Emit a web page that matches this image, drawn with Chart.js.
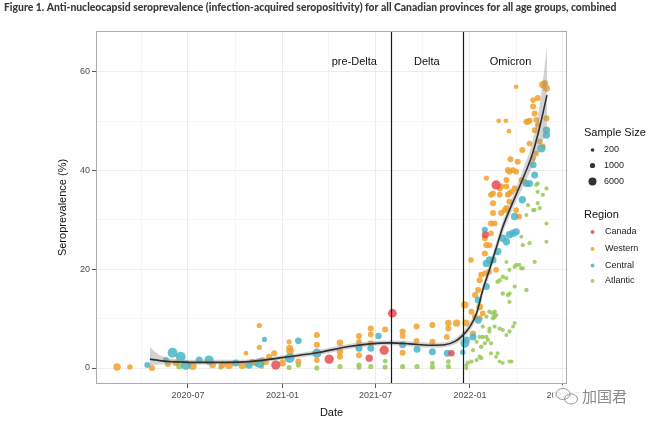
<!DOCTYPE html>
<html>
<head>
<meta charset="utf-8">
<script src="https://cdn.jsdelivr.net/npm/chart.js@4"></script>
<style>
  html, body { margin: 0; padding: 0; background: #fff; }
  canvas { display: block; }
</style>
</head>
<body>
<canvas id="chart" width="650" height="423"></canvas>
<script>
// ---- data: [date, seroprevalence %, sample size] ----
const western = [
  ['2020-02-14',0.2,3000],['2020-03-10',0.2,1000],['2020-04-22',0.0,1500],['2020-05-23',0.8,1500],
  ['2020-06-08',1.0,2000],['2020-07-10',0.4,4000],['2020-08-18',0.6,2000],['2020-09-06',0.6,2000],
  ['2020-09-19',0.6,4000],['2020-10-15',0.6,4000],['2020-10-22',3.0,500],['2020-11-03',1.2,2000],
  ['2020-11-10',1.0,2000],['2020-11-17',8.6,800],['2020-11-17',4.2,800],['2020-11-23',1.6,1500],
  ['2020-11-29',1.2,2000],['2020-12-06',2.3,1500],['2020-12-16',3.0,1500],['2021-01-01',1.0,2500],
  ['2021-01-14',5.3,800],['2021-01-15',4.0,2500],['2021-01-16',3.4,3000],['2021-02-01',1.3,1500],
  ['2021-03-09',6.7,1500],['2021-03-09',4.7,1500],['2021-03-09',1.6,1200],
  ['2021-04-23',5.1,2000],['2021-04-23',3.3,2000],['2021-04-23',2.3,1500],
  ['2021-05-30',6.5,1500],['2021-05-30',5.3,1200],['2021-05-30',2.6,1500],
  ['2021-06-22',8.0,1500],['2021-06-22',6.8,1200],['2021-06-22',5.0,1500],
  ['2021-07-20',7.8,1500],
  ['2021-08-23',7.4,1500],['2021-08-23',6.5,1200],['2021-08-23',3.1,1500],
  ['2021-09-19',8.4,1500],['2021-09-19',5.5,1200],
  ['2021-10-20',8.7,1500],['2021-10-20',5.3,1500],
  ['2021-11-20',9.1,2000],['2021-11-20',8.0,1500],['2021-11-17',6.3,1200],
  ['2021-12-06',9.1,3000],['2021-12-22',12.8,3000],['2021-12-24',9.1,2500],
  ['2022-01-04',11.4,1500],['2022-01-07',7.0,1500],['2022-01-03',21.9,1000],['2022-01-11',14.8,1500],
  ['2022-01-11',10.4,1500],['2022-01-20',12.4,2500],['2022-01-20',10.1,1500],['2022-01-20',17.8,1500],
  ['2022-01-23',18.9,1500],['2022-01-17',15.8,1500],['2022-01-26',11.1,1200],['2022-01-30',23.2,1500],
  ['2022-01-30',26.3,1500],['2022-01-30',19.2,1200],['2022-02-02',24.9,1500],['2022-02-07',19.5,1500],
  ['2022-02-08',24.9,1200],['2022-02-11',29.3,1500],['2022-02-11',27.3,1200],['2022-02-15',31.4,1500],
  ['2022-02-15',33.4,1500],['2022-02-11',35.1,1200],['2022-02-21',19.9,1200],['2022-02-18',29.3,1200],
  ['2022-02-28',36.4,1500],['2022-02-28',35.1,1500],['2022-03-03',36.8,1500],['2022-03-03',31.4,1500],
  ['2022-03-10',32.0,1500],['2022-03-13',32.4,1500],['2022-03-13',36.8,1200],['2022-03-13',38.1,1500],
  ['2022-03-16',35.1,1500],['2022-03-16',40.1,1500],['2022-03-19',33.7,1500],['2022-03-19',35.4,1200],
  ['2022-03-23',35.7,1200],['2022-03-21',42.3,1500],['2022-03-26',40.1,1200],['2022-03-29',36.4,1500],
  ['2022-04-01',32.0,1200],['2022-04-01',57.0,500],['2022-04-04',41.8,1500],['2022-04-07',30.7,1200],
  ['2022-04-11',38.1,1200],['2022-04-13',44.2,1500],['2022-04-17',37.8,1200],['2022-02-26',50.1,500],
  ['2022-03-12',50.1,500],['2022-03-18',48.0,500],['2022-02-02',38.5,800],['2022-04-21',49.9,1500],
  ['2022-04-24',49.9,1500],['2022-04-27',50.1,1500],['2022-04-27',45.5,1200],['2022-05-04',53.0,1500],
  ['2022-05-04',42.5,1200],['2022-05-07',51.6,1500],['2022-05-10',43.5,1200],['2022-05-13',54.7,1500],
  ['2022-05-13',49.3,1200],['2022-05-17',45.9,1200],['2022-05-23',44.9,1200],['2022-05-23',57.4,3000],
  ['2022-05-27',57.7,2000],['2022-05-30',56.7,2500],['2022-05-30',50.6,1500],['2022-03-19',39.8,1200],
  ['2022-04-01',39.8,1200],['2022-05-07',48.2,1200],['2022-05-10',50.3,1200],['2022-05-04',54.3,1200],
  ['2022-02-15',35.4,1200]
];

const central = [
  ['2020-04-13',0.6,1500],['2020-05-19',1.6,1500],['2020-06-01',3.1,7000],['2020-06-17',2.3,7000],
  ['2020-06-27',0.6,7000],['2020-07-23',1.6,2500],['2020-08-11',1.6,6000],['2020-10-02',1.0,2500],
  ['2020-10-28',0.6,3000],['2020-11-17',1.0,7000],['2020-11-27',5.8,800],['2021-01-15',2.0,7000],
  ['2021-02-01',5.5,2000],['2021-03-09',3.0,6000],['2021-05-30',4.0,2500],['2021-06-22',4.0,2500],
  ['2021-07-07',6.5,2000],['2021-08-23',4.7,2500],['2021-09-20',3.8,2500],['2021-10-20',3.3,2500],
  ['2021-11-18',3.0,2500],['2021-12-18',3.2,1000],['2021-12-22',5.0,5000],['2021-12-25',5.7,2500],
  ['2022-01-07',6.3,2500],['2022-01-17',9.7,2500],['2022-01-17',13.8,2500],['2022-02-02',16.5,2500],
  ['2022-02-02',21.2,3000],['2022-02-08',21.9,3000],['2022-01-30',28.0,1500],['2022-02-15',21.9,2500],
  ['2022-02-24',23.6,3000],['2022-03-06',26.3,3000],['2022-03-13',25.6,3000],['2022-03-19',27.0,3000],
  ['2022-03-26',27.3,3000],['2022-04-01',27.6,3000],['2022-03-29',30.7,3000],['2022-04-13',34.1,3000],
  ['2022-04-21',37.4,2500],['2022-04-27',37.4,2500],['2022-05-07',39.1,2500],['2022-05-04',41.2,2500],
  ['2022-05-20',44.5,4000],['2022-05-30',48.2,3000],['2022-05-30',47.2,3000]
];

const canada = [
  ['2020-12-19',0.6,6000],['2021-04-02',1.8,6000],['2021-06-19',2.0,3000],['2021-07-18',3.6,6000],
  ['2021-08-03',11.1,5000],['2021-11-26',3.0,2000],['2022-01-31',27.0,2500],['2022-02-21',37.1,6000]
];

const atlantic = [
  ['2020-06-14',0.3,1500],['2020-09-03',0.2,800],['2020-11-22',0.3,600],['2021-01-14',0.1,800],
  ['2021-02-01',0.6,800],['2021-03-09',0.0,800],['2021-04-23',0.3,800],['2021-05-30',0.6,800],
  ['2021-05-30',0.1,600],['2021-06-22',0.3,800],['2021-07-20',1.4,600],['2021-07-20',0.2,800],
  ['2021-08-23',0.3,800],['2021-09-20',0.3,800],['2021-10-20',1.0,600],['2021-10-20',0.2,800],
  ['2021-11-20',1.3,600],['2021-11-20',0.3,800],
  ['2021-12-25',0.0,300],['2021-12-25',0.6,300],['2021-12-28',1.1,300],['2022-01-04',1.3,300],
  ['2022-01-14',1.6,300],['2022-01-20',2.3,400],['2022-01-23',2.0,300],['2022-01-07',3.6,300],
  ['2022-01-23',4.3,400],['2022-01-14',5.3,300],['2022-01-26',6.3,400],['2022-01-20',6.3,300],
  ['2022-02-02',6.3,300],['2022-02-11',5.0,300],['2022-01-30',5.0,300],['2022-02-05',5.7,300],
  ['2022-02-08',7.4,300],['2022-01-26',8.4,300],['2022-02-08',8.0,300],['2022-02-18',8.4,300],
  ['2022-02-15',10.1,400],['2022-02-02',10.4,300],['2022-02-18',10.4,400],['2022-02-08',11.4,400],
  ['2022-02-15',11.1,400],['2022-02-18',11.4,400],['2022-02-21',10.7,300],['2022-02-11',3.0,200],
  ['2022-02-24',3.0,200],['2022-02-28',1.3,200],['2022-03-06',1.0,200],['2022-03-19',1.3,200],
  ['2022-03-23',1.3,200],['2022-02-21',2.3,200],['2022-02-28',8.0,300],['2022-03-06',7.7,300],
  ['2022-03-13',6.7,200],['2022-03-19',7.4,300],['2022-03-26',8.4,200],['2022-03-29',9.1,200],
  ['2022-03-19',13.4,300],['2022-03-06',15.1,400],['2022-03-16',14.8,400],['2022-03-19',15.1,300],
  ['2022-03-29',16.5,300],['2022-04-21',15.8,400],['2022-02-24',17.5,400],['2022-02-28',17.8,400],
  ['2022-03-06',18.5,400],['2022-03-13',18.2,300],['2022-03-19',19.9,300],['2022-03-29',20.5,300],
  ['2022-04-01',20.9,300],['2022-04-07',20.9,300],['2022-04-11',20.2,300],['2022-04-14',20.2,300],
  ['2022-05-07',21.5,300],['2022-03-13',21.5,200],['2022-04-11',26.6,200],['2022-04-27',25.3,300],
  ['2022-04-14',24.9,300],['2022-05-07',32.0,300],['2022-05-13',33.4,300],['2022-05-17',32.4,300],
  ['2022-04-21',31.0,200],['2022-04-24',33.0,300],['2022-05-04',32.0,300],['2022-05-23',35.1,300],
  ['2022-05-10',37.1,300],['2022-05-13',35.7,300],['2022-05-30',36.4,300],['2022-05-30',29.3,200],
  ['2022-05-30',25.6,200],['2022-05-13',37.4,300]
];

// loess fit with its confidence band
const smoothDates = ['2020-04-18','2020-05-07','2020-06-06','2020-07-05','2020-08-22','2020-10-10',
  '2020-11-18','2020-12-27','2021-02-04','2021-03-15','2021-05-07','2021-06-20','2021-07-29',
  '2021-09-06','2021-10-15','2021-11-13','2021-12-03','2021-12-17','2022-01-01','2022-01-14',
  '2022-01-26','2022-02-08','2022-02-22','2022-03-06','2022-03-19','2022-04-02','2022-04-13',
  '2022-05-03','2022-05-17','2022-05-31'];
const smoothFit = [1.8,1.5,1.25,1.15,1.15,1.2,1.5,2.05,2.6,3.2,4.3,4.9,5.1,4.9,4.6,4.7,5.4,6.5,8.4,11.1,
  15.8,19.9,24.6,28.6,32.0,35.4,38.1,43.5,48.9,55.3];
const smoothLo = [0.5,0.7,0.7,0.7,0.7,0.75,1.05,1.6,2.15,2.7,3.8,4.4,4.6,4.4,4.1,4.2,4.8,5.8,7.6,10.2,
  14.8,18.8,23.4,27.4,30.7,34.0,36.4,41.0,45.0,47.5];
const smoothHi = [4.2,2.6,1.85,1.65,1.65,1.65,1.95,2.5,3.05,3.7,4.8,5.4,5.6,5.4,5.1,5.2,6.0,7.2,9.2,12.0,
  16.8,21.0,25.8,29.8,33.3,36.8,39.8,46.0,53.5,65.0];

const xMajorTicks = ['2020-07-01','2021-01-01','2021-07-01','2022-01-01','2022-07-01'];
const xMinorTicks = ['2020-04-01','2020-10-01','2021-04-01','2021-10-01','2022-04-01'];
const yMajorTicks = [0, 20, 40, 60];
const yMinorTicks = [10, 30, 50];

const periodLines = ['2021-08-01', '2021-12-18'];
const periodNames = ['pre-Delta', 'Delta', 'Omicron'];
const periodLabelDates = ['2021-05-21', '2021-10-09', '2022-03-21'];
const periodLabelLevel = 62;

const sizeBreaks = [200, 1000, 6000];
const regionNames = ['Canada', 'Western', 'Central', 'Atlantic'];
const regionColors = ['rgba(230,78,84,0.85)', 'rgba(242,160,42,0.85)', 'rgba(72,182,199,0.85)', 'rgba(152,201,88,0.85)'];

const titleText = 'Figure 1. Anti-nucleocapsid seroprevalence (infection-acquired seropositivity) for all Canadian provinces for all age groups, combined';

// ---- helpers ----
const DAY0 = Date.parse('2020-01-01');
function dayNum(s) {
  return (Date.parse(s) - DAY0) / 864e5;
}
function rad(n) {
  return 1.4 + 0.042 * Math.sqrt(n);
}
function toPoints(list) {
  return list.map(p => ({ x: dayNum(p[0]), y: p[1], n: p[2] }));
}
function curve(vals) {
  return smoothDates.map((d, i) => ({ x: dayNum(d), y: vals[i] }));
}

const majorX = xMajorTicks.map(dayNum);
const allX = majorX.concat(xMinorTicks.map(dayNum)).sort((a, b) => a - b);
const FONT = '"Liberation Sans", Arial, sans-serif';

function pointSet(label, list, color) {
  return {
    type: 'scatter',
    label: label,
    data: toPoints(list),
    pointRadius: ctx => rad(ctx.raw.n),
    pointHoverRadius: ctx => rad(ctx.raw.n),
    backgroundColor: color,
    pointBorderWidth: 0,
    borderWidth: 0
  };
}

const decor = {
  id: 'decor',
  beforeDraw(chart) {
    const c = chart.ctx;
    c.save();
    c.fillStyle = '#fff';
    c.fillRect(0, 0, chart.width, chart.height);
    c.restore();
  },
  afterDatasetsDraw(chart) {
    const c = chart.ctx, a = chart.chartArea;
    const xs = chart.scales.x, ys = chart.scales.y;
    c.save();
    c.strokeStyle = '#1a1a1a';
    c.lineWidth = 1.2;
    periodLines.forEach(d => {
      const px = Math.round(xs.getPixelForValue(dayNum(d))) + 0.5;
      c.beginPath();
      c.moveTo(px, a.top);
      c.lineTo(px, a.bottom);
      c.stroke();
    });
    c.fillStyle = '#111';
    c.font = '11px ' + FONT;
    c.textAlign = 'center';
    c.textBaseline = 'middle';
    periodNames.forEach((t, i) => {
      c.fillText(t, xs.getPixelForValue(dayNum(periodLabelDates[i])), ys.getPixelForValue(periodLabelLevel));
    });
    c.restore();
  },
  afterDraw(chart) {
    const c = chart.ctx, a = chart.chartArea;
    c.save();
    // panel border
    c.strokeStyle = '#ababab';
    c.lineWidth = 1;
    c.strokeRect(a.left + 0.5, a.top + 0.5, a.right - a.left - 1, a.bottom - a.top - 1);

    // title
    c.fillStyle = '#3a3a3a';
    c.textAlign = 'left';
    c.textBaseline = 'alphabetic';
    c.font = '900 10px Lato, Roboto, sans-serif';
    const w = c.measureText(titleText).width;
    c.font = '900 ' + (10 * 613 / w).toFixed(2) + 'px Lato, Roboto, sans-serif';
    c.fillText(titleText, 4, 11);

    // axis titles
    c.fillStyle = '#111';
    c.font = '11px ' + FONT;
    c.textAlign = 'center';
    c.textBaseline = 'middle';
    c.fillText('Date', (a.left + a.right) / 2, 413);
    c.translate(63, (a.top + a.bottom) / 2);
    c.rotate(-Math.PI / 2);
    c.fillText('Seroprevalence (%)', 0, 0);
    c.setTransform(chart.currentDevicePixelRatio, 0, 0, chart.currentDevicePixelRatio, 0, 0);

    // legend: sample size
    c.textAlign = 'left';
    c.font = '11px ' + FONT;
    c.fillStyle = '#111';
    c.fillText('Sample Size', 584, 133);
    c.font = '9px ' + FONT;
    const sizeY = [150, 165.5, 181.5];
    const sizeR = [1.8, 2.6, 4.0];
    sizeBreaks.forEach((n, i) => {
      c.fillStyle = '#333';
      c.beginPath();
      c.arc(592.5, sizeY[i], sizeR[i], 0, Math.PI * 2);
      c.fill();
      c.fillStyle = '#222';
      c.fillText(String(n), 604, sizeY[i]);
    });

    // legend: region
    c.font = '11px ' + FONT;
    c.fillStyle = '#111';
    c.fillText('Region', 584, 215);
    c.font = '9px ' + FONT;
    const regY = [232, 249, 265.5, 281];
    regionNames.forEach((t, i) => {
      c.fillStyle = regionColors[i];
      c.beginPath();
      c.arc(592.5, regY[i], 2, 0, Math.PI * 2);
      c.fill();
      c.fillStyle = '#222';
      c.fillText(t, 605, regY[i]);
    });

    // watermark
    c.fillStyle = 'rgba(255,255,255,0.85)';
    c.fillRect(553, 385, 97, 24);
    c.strokeStyle = '#9a9a9a';
    c.lineWidth = 1;
    c.beginPath();
    c.ellipse(563, 394, 7, 5.5, 0, 0, Math.PI * 2);
    c.stroke();
    c.beginPath();
    c.ellipse(571, 399, 6.5, 5, 0, 0, Math.PI * 2);
    c.stroke();
    c.fillStyle = '#8a8a8a';
    c.font = '15px "Noto Sans CJK SC", sans-serif';
    c.textAlign = 'left';
    c.fillText('加国君', 582, 396);
    c.restore();
  }
};

const ctx = document.getElementById('chart').getContext('2d');
new Chart(ctx, {
  type: 'scatter',
  data: {
    datasets: [
      {
        type: 'line', label: 'fit', data: curve(smoothFit), showLine: true,
        borderColor: '#2e2e2e', borderWidth: 1.6, pointRadius: 0, fill: false,
        cubicInterpolationMode: 'monotone'
      },
      {
        type: 'line', label: 'hi', data: curve(smoothHi), showLine: true,
        borderWidth: 0, borderColor: 'rgba(0,0,0,0)', pointRadius: 0,
        backgroundColor: 'rgba(150,150,150,0.42)', fill: '+1',
        cubicInterpolationMode: 'monotone'
      },
      {
        type: 'line', label: 'lo', data: curve(smoothLo), showLine: true,
        borderWidth: 0, borderColor: 'rgba(0,0,0,0)', pointRadius: 0, fill: false,
        cubicInterpolationMode: 'monotone'
      },
      pointSet('Canada', canada, regionColors[0]),
      pointSet('Central', central, regionColors[2]),
      pointSet('Western', western, regionColors[1]),
      pointSet('Atlantic', atlantic, regionColors[3])
    ]
  },
  options: {
    responsive: false,
    animation: false,
    layout: { padding: { top: 31, right: 83, left: 0, bottom: 0 } },
    plugins: {
      legend: { display: false },
      tooltip: { enabled: false }
    },
    scales: {
      x: {
        type: 'linear',
        min: 3,
        max: 920,
        afterBuildTicks: s => { s.ticks = allX.map(v => ({ value: v })); },
        afterFit: s => { s.height = 39; },
        border: { display: false },
        grid: {
          color: c => majorX.includes(c.tick.value) ? '#ececec' : '#f6f6f6',
          tickColor: c => majorX.includes(c.tick.value) ? '#555' : 'rgba(0,0,0,0)',
          tickLength: 4,
          lineWidth: 1
        },
        ticks: {
          autoSkip: false, maxRotation: 0, minRotation: 0, padding: 2,
          color: '#4d4d4d', font: { family: FONT, size: 9 },
          callback: v => {
            const i = majorX.indexOf(v);
            return i >= 0 ? xMajorTicks[i].slice(0, 7) : '';
          }
        }
      },
      y: {
        type: 'linear',
        min: -3.24,
        max: 68.3,
        afterBuildTicks: s => { s.ticks = yMajorTicks.concat(yMinorTicks).sort((a, b) => a - b).map(v => ({ value: v })); },
        afterFit: s => { s.width = 96; },
        border: { display: false },
        grid: {
          color: c => yMajorTicks.includes(c.tick.value) ? '#ececec' : '#f6f6f6',
          tickColor: c => yMajorTicks.includes(c.tick.value) ? '#555' : 'rgba(0,0,0,0)',
          tickLength: 4,
          lineWidth: 1
        },
        ticks: {
          autoSkip: false, padding: 2,
          color: '#4d4d4d', font: { family: FONT, size: 9 },
          callback: v => yMajorTicks.includes(v) ? String(v) : ''
        }
      }
    }
  },
  plugins: [decor]
});
</script>
</body>
</html>
